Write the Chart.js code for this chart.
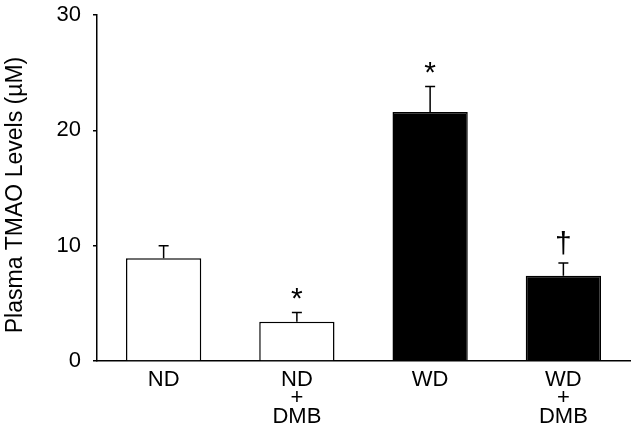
<!DOCTYPE html>
<html><head><meta charset="utf-8">
<script src="https://cdn.jsdelivr.net/npm/chart.js@4"></script>
<style>html,body{margin:0;padding:0;background:#fff}#wrap{width:638px;height:431px}</style>
</head><body><div id="wrap"><canvas id="c" width="638" height="431"></canvas></div>
<script>
const categories = [["ND"], ["ND", "+", "DMB"], ["WD"], ["WD", "+", "DMB"]];
const means = [8.9, 3.4, 21.6, 7.4];
const errors = [1.1, 0.8, 2.2, 1.1];
const marks = ["", "*", "*", "\u2020"];
const fills = ["#ffffff", "#ffffff", "#000000", "#000000"];
const yTicks = [0, 10, 20, 30];
const yTitle = "Plasma TMAO Levels (\u00b5M)";
const FONT = "'Liberation Sans', Arial, sans-serif";

const errPlugin = {
  id: 'errbars',
  afterDatasetsDraw(chart) {
    const ctx = chart.ctx, x = chart.scales.x, y = chart.scales.y;
    ctx.save();
    ctx.strokeStyle = '#000'; ctx.lineWidth = 1.5;
    means.forEach((m, i) => {
      const cx = x.getPixelForValue(i);
      const y0 = y.getPixelForValue(m), y1 = y.getPixelForValue(m + errors[i]);
      ctx.beginPath();
      ctx.moveTo(cx, y0); ctx.lineTo(cx, y1);
      ctx.moveTo(cx - 5, y1); ctx.lineTo(cx + 5, y1);
      ctx.stroke();
      if (marks[i]) {
        ctx.fillStyle = '#000';
        ctx.textAlign = 'center';
        ctx.textBaseline = 'alphabetic';
        if (marks[i] === '*') {
          ctx.font = '30px ' + FONT;
          ctx.fillText(marks[i], cx, y1 - 5);
        } else {
          ctx.font = '30px ' + FONT;
          ctx.fillText(marks[i], cx, y1 - 10);
        }
      }
    });
    // y axis title, centred slightly below the plot's middle as in the reference
    const midY = (y.top + y.bottom) / 2 + 7;
    ctx.translate(16, midY);
    ctx.rotate(-Math.PI / 2);
    ctx.font = '23px ' + FONT;
    ctx.fillStyle = '#000';
    ctx.textAlign = 'center';
    ctx.textBaseline = 'middle';
    ctx.fillText(yTitle, 0, 0);
    ctx.restore();
  }
};

new Chart(document.getElementById('c'), {
  type: 'bar',
  data: {
    labels: categories,
    datasets: [{
      data: means,
      backgroundColor: fills,
      borderColor: '#000',
      borderWidth: 1.5,
      barPercentage: 0.565,
      categoryPercentage: 1.0
    }]
  },
  options: {
    responsive: false,
    animation: false,
    devicePixelRatio: 1,
    layout: { padding: { top: 15, right: 8, left: 0, bottom: 0 } },
    plugins: { legend: { display: false }, tooltip: { enabled: false } },
    scales: {
      x: {
        grid: { display: false, drawTicks: false },
        border: { display: true, color: '#000', width: 1.5 },
        ticks: { color: '#000', padding: 9, font: { family: FONT, size: 22, lineHeight: 0.86 }, maxRotation: 0 },
        afterFit(s) { s.height = 70; s.paddingLeft = 0; s.paddingRight = 0; }
      },
      y: {
        min: 0, max: 30,
        afterBuildTicks(s) { s.ticks = yTicks.map(v => ({ value: v })); },
        grid: { drawOnChartArea: false, drawTicks: true, tickLength: 4, color: '#000', lineWidth: 1.5 },
        border: { display: true, color: '#000', width: 1.5 },
        ticks: { color: '#000', padding: 12, font: { family: FONT, size: 22 } },
        title: { display: false },
        afterFit(s) { s.width = 97; s.paddingTop = 0; s.paddingBottom = 0; }
      }
    }
  },
  plugins: [errPlugin]
});
</script></body></html>
